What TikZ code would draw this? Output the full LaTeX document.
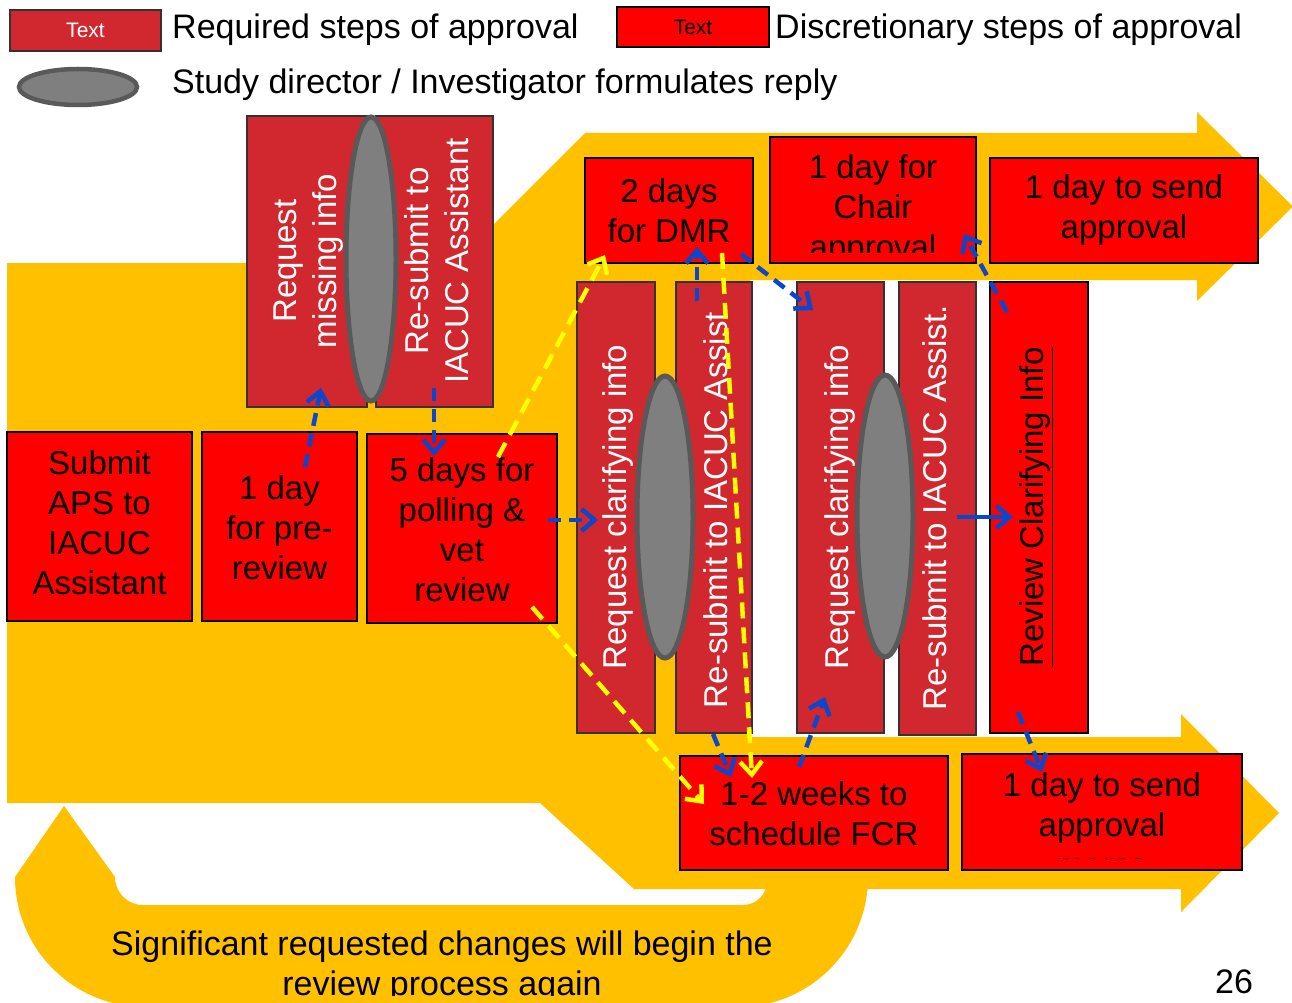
\documentclass[tikz,border=0pt]{standalone}
\usepackage{fontspec}
\setmainfont{Liberation Sans}
\usetikzlibrary{shapes.geometric,arrows.meta}
\definecolor{gold}{HTML}{FFC000}
\definecolor{dred}{HTML}{D0282E}
\definecolor{bred}{HTML}{FF0000}
\definecolor{ovalfill}{HTML}{7F7F7F}
\definecolor{ovalline}{HTML}{595959}
\definecolor{ablue}{HTML}{0A47CF}
\definecolor{ayellow}{HTML}{FFFF00}
\newcommand{\boxfont}{\fontsize{33}{40}\selectfont}
\newcommand{\legfont}{\fontsize{34}{40}\selectfont}
\newcommand{\smallfont}{\fontsize{21}{25}\selectfont}
\begin{document}
\begin{tikzpicture}[x=1pt,y=-1pt,
  req/.style={rectangle, draw=black!80, fill=dred, line width=1.2pt, inner sep=0pt},
  disc/.style={rectangle, draw=black, fill=bred, line width=1.2pt, inner sep=0pt},
  wtxt/.style={text=white, font=\boxfont, align=center, inner sep=0pt},
  btxt/.style={text=black, font=\boxfont, align=center, inner sep=0pt},
  oval/.style={ellipse, draw=ovalline, fill=ovalfill, line width=5pt, inner sep=0pt},
  legtxt/.style={font=\legfont, anchor=west, inner sep=0pt},
  bluearr/.style={draw=ablue, line width=4.5pt, dash pattern=on 13pt off 8pt, -{Straight Barb[length=13pt,width=22pt]}},
  bluesolid/.style={draw=ablue, line width=4.5pt, -{Straight Barb[length=13pt,width=22pt]}},
  yelarr/.style={draw=ayellow, line width=4.5pt, dash pattern=on 16pt off 9pt, -{Straight Barb[length=13pt,width=22pt]}}
]
\useasboundingbox (0,0) rectangle (1292,1003);
\clip (0,0) rectangle (1292,1003);

% ---------- yellow background shapes ----------
\fill[gold] (64,806) -- (115,877)
  .. controls (115,892.5) and (127.5,905) .. (143,905)
  -- (743,905) .. controls (756.3,905) and (767,894.3) .. (767,881)
  -- (767,870) -- (868,870) -- (868,877)
  .. controls (868,948.8) and (809.8,1007) .. (738,1007)
  -- (145,1007) .. controls (73.2,1007) and (15,948.8) .. (15,877) -- cycle;
\fill[gold] (7,263) -- (455,263) -- (585,133) -- (1197,133) -- (1197,112) -- (1293,206.5)
  -- (1197,301) -- (1197,280) -- (750,280) -- (750,737) -- (1181,737) -- (1181,714)
  -- (1279,813) -- (1181,912) -- (1181,889) -- (634,889) -- (540,803) -- (7,803) -- cycle;

% ---------- legend ----------
\node[req, minimum width=151pt, minimum height=41pt, text=white, font=\smallfont] (L1) at (85.5,30.5) {Text};
\node[legtxt] (L1t) at (172,30) {Required steps of approval};
\node[disc, minimum width=152pt, minimum height=40pt, font=\smallfont] (L2) at (693,27) {Text};
\node[legtxt] (L2t) at (775,30) {Discretionary steps of approval};
\node[oval, minimum width=118pt, minimum height=36pt, line width=4.5pt] (L3) at (78,87) {};
\node[legtxt] (L3t) at (172,85) {Study director / Investigator formulates reply};

% ---------- boxes ----------
\node[disc, minimum width=185pt, minimum height=189pt] (A) at (99.5,526.5) {};
\node[btxt] (At) at (99.5,523) {Submit\\APS to\\IACUC\\Assistant};
\node[disc, minimum width=155pt, minimum height=189pt] (B) at (279.5,526.5) {};
\node[btxt] (Bt) at (279.5,528) {1 day\\for pre-\\review};
\node[disc, minimum width=190pt, minimum height=189pt] (C) at (462,528.5) {};
\node[btxt] (Ct) at (462,530) {5 days for\\polling \&\\vet\\review};

\node[req, minimum width=120pt, minimum height=291pt] (D) at (307,261.5) {};
\node[wtxt, rotate=90] (Dt) at (309,261) {Request\\missing info};
\node[req, minimum width=117pt, minimum height=291pt] (E) at (434.5,261.5) {};
\node[wtxt, rotate=90] (Et) at (437,261) {Re-submit to\\IACUC Assistant};
\node[oval, minimum width=50pt, minimum height=284pt] (O1) at (371,259) {};

\node[disc, minimum width=168pt, minimum height=105pt] (F) at (669,210.5) {};
\node[btxt] (Ft) at (669,211) {2 days\\for DMR};
\node[disc, minimum width=206pt, minimum height=126pt] (G) at (873,200) {};
\begin{scope}
  \clip (770,137) rectangle (976,252);
  \node[btxt] (Gt) at (873,210) {1 day for\\Chair\\approval};
\end{scope}
\node[disc, minimum width=268pt, minimum height=105pt] (H) at (1124,210.5) {};
\node[btxt] (Ht) at (1124,210) {1 day to send\\approval};

\node[req, minimum width=78pt, minimum height=451pt] (I) at (616,507.5) {};
\node[wtxt, rotate=90] (It) at (618,507) {Request clarifying info};
\node[req, minimum width=76pt, minimum height=451pt] (J) at (714,507.5) {};
\node[wtxt, rotate=90] (Jt) at (716,510) {Re-submit to IACUC Assist};
\node[oval, minimum width=56pt, minimum height=282pt] (O2) at (665,517) {};

\node[req, minimum width=87pt, minimum height=451pt] (K) at (840.5,507.5) {};
\node[wtxt, rotate=90] (Kt) at (840,507) {Request clarifying info};
\node[req, minimum width=77pt, minimum height=453pt] (Lb) at (937.5,508.5) {};
\node[wtxt, rotate=90] (Lt) at (935,508) {Re-submit to IACUC Assist.};
\node[oval, minimum width=56pt, minimum height=282pt] (O3) at (885,516) {};

\node[disc, minimum width=98pt, minimum height=451pt] (M) at (1039,507.5) {};
\node[btxt, rotate=90] (Mt) at (1036,507) {\underline{Review Clarifying Info}};

\node[disc, minimum width=268pt, minimum height=114pt] (N) at (814,813) {};
\node[btxt] (Nt) at (814,814) {1-2 weeks to\\schedule FCR};
\node[disc, minimum width=280pt, minimum height=116pt] (O) at (1102,812) {};
\begin{scope}
  \clip (962,754) rectangle (1242,858.5);
  \node[btxt] (Ot) at (1102,825) {1 day to send\\approval\\memo};
\end{scope}

% ---------- bottom texts ----------
\begin{scope}
  \clip (0,0) rectangle (1292,995);
  \node[font=\legfont, align=center, inner sep=0pt] (note) at (442,967) {Significant requested changes will begin the\\review process again};
\end{scope}
\node[font=\legfont, inner sep=0pt] (pg) at (1234,982) {26};

% ---------- connector end points ----------
\coordinate (b1s) at (305,467); \coordinate (b1e) at (321,388);
\coordinate (b2s) at (434,388); \coordinate (b2e) at (434,456);
\coordinate (b3s) at (548,520); \coordinate (b3e) at (598,520);
\coordinate (b4s) at (697,301); \coordinate (b4e) at (697,247);
\coordinate (b5s) at (741,254); \coordinate (b5e) at (813,310);
\coordinate (b6s) at (713,734); \coordinate (b6e) at (731,777);
\coordinate (b7s) at (799,767); \coordinate (b7e) at (825,697);
\coordinate (b8s) at (957,517); \coordinate (b8e) at (1013,517);
\coordinate (b9s) at (1007,312); \coordinate (b9e) at (964,234);
\coordinate (b10s) at (1018,712); \coordinate (b10e) at (1042,772);
\coordinate (y1s) at (498,457); \coordinate (y1e) at (605,255);
\coordinate (y2s) at (532,607); \coordinate (y2e) at (704,804);
\coordinate (y3s) at (722,253); \coordinate (y3e) at (752,778);

% ---------- connectors ----------
\draw[yelarr] (y1s) -- (y1e);
\draw[yelarr] (y2s) -- (y2e);
\draw[yelarr] (y3s) -- (y3e);
\draw[bluearr] (b1s) -- (b1e);
\draw[bluearr] (b2s) -- (b2e);
\draw[bluearr] (b3s) -- (b3e);
\draw[bluearr] (b4s) -- (b4e);
\draw[bluearr] (b5s) -- (b5e);
\draw[bluearr] (b6s) -- (b6e);
\draw[bluearr] (b7s) -- (b7e);
\draw[bluesolid] (b8s) -- (b8e);
\draw[bluearr] (b9s) -- (b9e);
\draw[bluearr] (b10s) -- (b10e);
\end{tikzpicture}
\end{document}
